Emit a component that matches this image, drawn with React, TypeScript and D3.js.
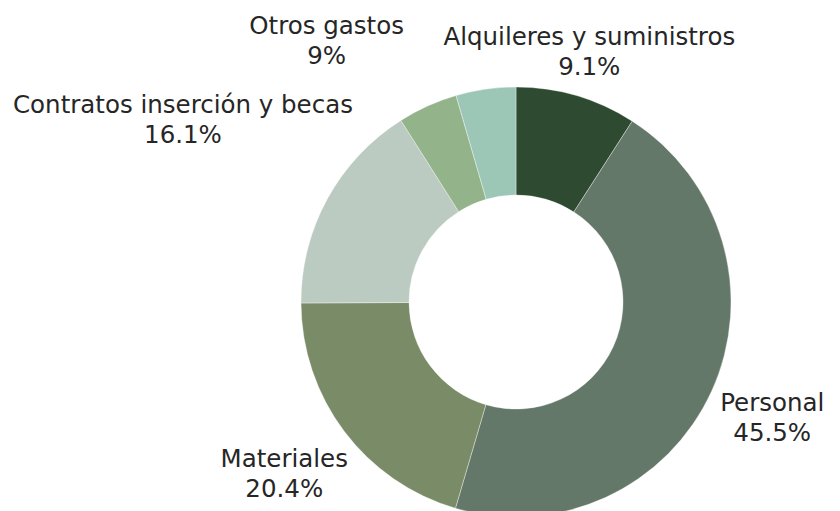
import React from "react";
import * as d3 from "d3";

// Label groups (what is written on the chart)
const groupNames = [
  "Alquileres y suministros",
  "Personal",
  "Materiales",
  "Contratos inserción y becas",
  "Otros gastos",
];
// Slices, clockwise from 12 o'clock; the last two slices share the "Otros gastos" label
const sliceGroup = [0, 1, 2, 3, 4, 4];
const sliceValues = [9.1, 45.5, 20.4, 16.1, 4.5, 4.5];
const sliceColors = ["#2e4a30", "#64786a", "#7a8b67", "#bccbc2", "#93b48a", "#9cc7b6"];

// Layout
const W = 840;
const H = 511;
const CX = 516;
const CY = 302;
const OUTER_R = 215;
const INNER_R = 107;
const LABEL_R = 285;
const labelNudge: [number, number][] = [
  [-7, 24],
  [-3, -1],
  [-4, 2],
  [-83, -44],
  [-110, 14],
];

export default function App() {
  const pie = d3
    .pie<number>()
    .sort(null)
    .value((d) => d)
    .startAngle(0)
    .endAngle(2 * Math.PI);
  const arcs = pie(sliceValues);
  const arcGen = d3
    .arc<d3.PieArcDatum<number>>()
    .innerRadius(INNER_R)
    .outerRadius(OUTER_R);
  const total = d3.sum(sliceValues);

  const labels = groupNames.map((name, g) => {
    const members = arcs.filter((_, i) => sliceGroup[i] === g);
    const a0 = d3.min(members, (m) => m.startAngle) as number;
    const a1 = d3.max(members, (m) => m.endAngle) as number;
    const mid = (a0 + a1) / 2;
    const v = d3.sum(members, (m) => m.value);
    const pct = +((v / total) * 100).toFixed(1);
    const [nx, ny] = labelNudge[g];
    return {
      name,
      pct: `${pct}%`,
      x: Math.sin(mid) * LABEL_R + nx,
      y: -Math.cos(mid) * LABEL_R + ny,
    };
  });

  return (
    <svg
      width={W}
      height={H}
      style={{ position: "absolute", left: 0, top: 0, background: "#fff" }}
    >
      <g transform={`translate(${CX},${CY})`}>
        {arcs.map((a, i) => (
          <path
            key={i}
            d={arcGen(a) || ""}
            fill={sliceColors[i]}
            stroke="#ffffff"
            strokeWidth={0.6}
            strokeOpacity={0.6}
          />
        ))}
        {labels.map((l, i) => (
          <text
            key={i}
            textAnchor="middle"
            fontFamily="'DejaVu Sans', sans-serif"
            fontSize={24.5}
            fill="#262626"
          >
            <tspan x={l.x} y={l.y - 8}>
              {l.name}
            </tspan>
            <tspan x={l.x} y={l.y + 22}>
              {l.pct}
            </tspan>
          </text>
        ))}
      </g>
    </svg>
  );
}
